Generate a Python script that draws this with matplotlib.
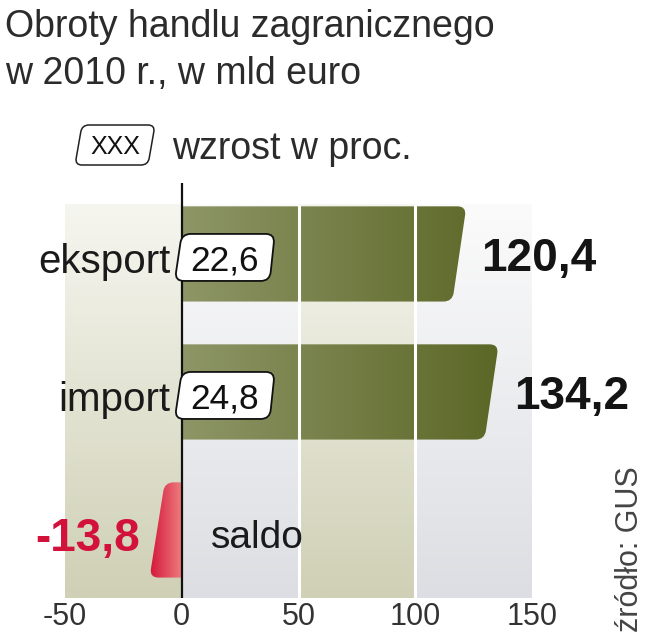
import numpy as np
import matplotlib.pyplot as plt
from matplotlib.path import Path
from matplotlib.patches import PathPatch
from matplotlib.transforms import IdentityTransform
from matplotlib.colors import to_rgb

plt.rcParams['font.family'] = ['Liberation Sans', 'DejaVu Sans']

# dane
kategorie = ['eksport', 'import', 'saldo']
wartosci = [120.4, 134.2, -13.8]
wzrost = ['22,6', '24,8', None]
etykiety = ['120,4', '134,2', '-13,8']
ticki = [-50, 0, 50, 100, 150]
ticki_etykiety = ['-50', '0', '50', '100', '150']

W, H = 648, 640
fig = plt.figure(figsize=(W / 100, H / 100), dpi=100)
fig.patch.set_facecolor('white')
ax = fig.add_axes([65 / W, (H - 598) / H, (532 - 65) / W, (598 - 183) / H])
ax.set_autoscale_on(False)
XLIM = (-50, 150)
YLIM = (2.493, -0.514)
ax.set_xlim(*XLIM)
ax.set_ylim(*YLIM)
pozycje = np.arange(len(kategorie))
wys = 0.69
tlo_gora = -0.355


def gradient(c1, c2, n=256, pion=True):
    a = np.linspace(0, 1, n)[:, None]
    arr = (1 - a) * np.array(to_rgb(c1)) + a * np.array(to_rgb(c2))
    if pion:
        return arr[:, None, :]
    return arr[None, :, :]


def zaokraglony(pts, r, rogi):
    """sciezka wielokata z zaokraglonymi rogami (wsp. ekranowe)"""
    verts, codes = [], []
    n = len(pts)
    for i in range(n):
        p = np.array(pts[i], float)
        pr = np.array(pts[i - 1], float)
        nx = np.array(pts[(i + 1) % n], float)
        if rogi[i] > 0:
            a = p + (pr - p) / np.linalg.norm(pr - p) * rogi[i] * r
            b = p + (nx - p) / np.linalg.norm(nx - p) * rogi[i] * r
            verts += [a, p, b]
            codes += [Path.LINETO, Path.CURVE3, Path.CURVE3]
        else:
            verts.append(p)
            codes.append(Path.LINETO)
    codes[0] = Path.MOVETO
    verts.append(verts[0])
    codes.append(Path.CLOSEPOLY)
    return np.array(verts), codes


def sciezka_dane(pts_dane, r, rogi):
    disp = ax.transData.transform(pts_dane)
    v, c = zaokraglony(disp, r, rogi)
    return Path(ax.transData.inverted().transform(v), c)


# tlo - pasy
pasy = [(-50, 0, '#f6f6f0', '#cfd0b5'), (0, 50, '#fbfbfb', '#dcdee3'),
        (50, 100, '#f6f6f0', '#cfd0b5'), (100, 150, '#fbfbfb', '#dcdee3')]
for x0, x1, c1, c2 in pasy:
    ax.imshow(gradient(c1, c2), extent=(x0, x1, YLIM[0], tlo_gora),
              aspect='auto', zorder=0)

# slupki
slupki = ax.barh(pozycje, wartosci, height=wys, color='none', zorder=2)
for b, v in zip(slupki, wartosci):
    y0, y1 = b.get_y(), b.get_y() + b.get_height()
    if v > 0:
        pts = [(0, y0), (v + 1.5, y0), (v - 4.5, y1), (0, y1)]
        rogi = [0, 1, 1, 0]
        grad = gradient('#8e9667', '#56621f', pion=False)
        ext = (0, 150, y1, y0)
    else:
        pts = [(0, y0), (v + 6.5, y0), (v, y1), (0, y1)]
        rogi = [0, 1, 1, 0]
        grad = gradient('#d3173b', '#ef8080', pion=False)
        ext = (v, 0, y1, y0)
    path = sciezka_dane(pts, 9, rogi)
    patch = PathPatch(path, facecolor='none', edgecolor='none', zorder=2)
    ax.add_patch(patch)
    im = ax.imshow(grad, extent=ext, aspect='auto', zorder=2)
    im.set_clip_path(patch)

# biale przerwy
ax.vlines([50, 100], YLIM[0], tlo_gora, colors='white', lw=2.2, zorder=3)
# os zero
ax.axvline(0, color='#111111', lw=1.6, zorder=4)

# etykiety kategorii i wartosci
for i, (k, v, e) in enumerate(zip(kategorie, wartosci, etykiety)):
    if v > 0:
        ax.text(-5, i + 0.03, k, ha='right', va='center_baseline', fontsize=29,
                color='#1a1a1a', zorder=5)
        ax.text(v + 8, i, e, ha='left', va='center_baseline', fontsize=33,
                fontweight='bold', color='#141414', zorder=5)
    else:
        ax.text(12.4, i + 0.03, k, ha='left', va='center_baseline', fontsize=28,
                color='#1a1a1a', zorder=5)
        ax.text(v - 4, i + 0.03, e, ha='right', va='center_baseline', fontsize=33,
                fontweight='bold', color='#d2123a', zorder=5)

# ramki ze wzrostem
for i, w in enumerate(wzrost):
    if w is None:
        continue
    cx, cy = ax.transData.transform((0, i))
    cy = cy - 4
    pts = [(cx - 7, cy - 23), (cx + 88, cy - 23), (cx + 93, cy + 24), (cx, cy + 24)]
    v, c = zaokraglony(pts, 9, [1, 1, 1, 1])
    p = PathPatch(Path(v, c), facecolor='white', edgecolor='#111111', lw=1.3,
                  transform=IdentityTransform(), zorder=6)
    fig.add_artist(p)
    fig.text((cx + 43) / W, cy / H, w, ha='center', va='center_baseline',
             fontsize=25.5, color='#111111', zorder=7)

# os x
ax.set_xticks(ticki)
ax.set_xticklabels(ticki_etykiety, fontsize=22, color='#333333')
ax.tick_params(axis='x', length=0, pad=3)
ax.set_yticks([])
for s in ax.spines.values():
    s.set_visible(False)
ax.patch.set_alpha(0)

# tytul
fig.text(5 / W, (H - 37) / H, 'Obroty handlu zagranicznego', ha='left',
         va='baseline', fontsize=27, color='#2b2b2b')
fig.text(5 / W, (H - 84) / H, 'w 2010 r., w mld euro', ha='left',
         va='baseline', fontsize=27, color='#2b2b2b')

# legenda
lp = [(75, 165), (148, 165), (155, 125), (82, 125)]
lv, lc = zaokraglony([(x, H - y) for x, y in lp], 7, [1, 1, 1, 1])
fig.add_artist(PathPatch(Path(lv, lc), facecolor='white', edgecolor='#222222',
                         lw=1.1, transform=IdentityTransform()))
fig.text(115 / W, (H - 145) / H, 'XXX', ha='center', va='center_baseline',
         fontsize=18, color='#111111')
fig.text(172 / W, (H - 145) / H, 'wzrost w proc.', ha='left',
         va='center_baseline', fontsize=27, color='#2b2b2b')

# zrodlo
fig.text(630 / W, (H - 632) / H, 'źródło: GUS', rotation=90, ha='center',
         va='bottom', fontsize=22, color='#444444')

fig.savefig('out.png', dpi=100)
